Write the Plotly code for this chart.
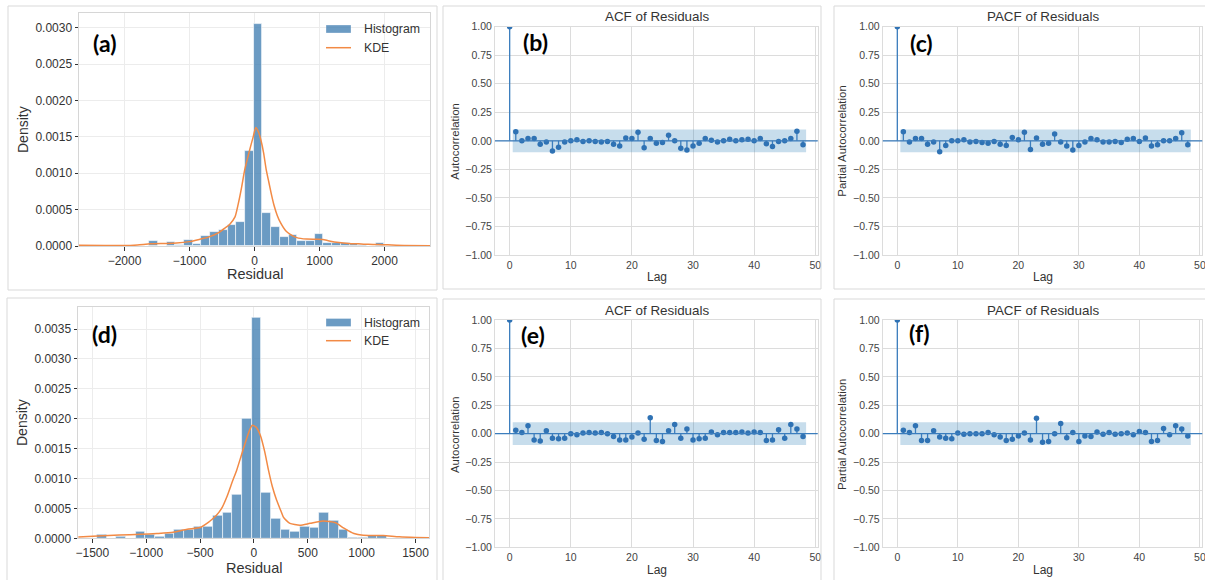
import plotly.graph_objects as go

W, H = 1205, 580

# ---------------- data ----------------
# Panel (a): histogram of residuals (density) + KDE
hist_a_start = -1620.0
hist_a_width = 134.07
hist_a_density = [0.000068, 0.0, 0.00005, 0.00002, 0.000085, 0.00003, 0.00014, 0.00019,
                  0.00022, 0.00029, 0.00033, 0.0013, 0.00305, 0.000455, 0.000255, 0.00012,
                  0.000155, 0.000065, 0.000065, 0.00016, 0.000047, 0.000045, 0.000035,
                  0.000025, 0.000015, 0.000005, 0.000035]
kde_a_x = [-2700, -2300, -2000, -1800, -1600, -1400, -1200, -1000, -850, -700, -550, -450,
           -380, -300, -250, -200, -150, -100, -60, -20, 20, 60, 100, 140, 180, 220, 260,
           300, 350, 400, 480, 550, 650, 800, 950, 1050, 1150, 1300, 1450, 1600, 1750,
           1900, 2050, 2300, 2700]
kde_a_y = [0.00001, 0.000006, 0.000006, 0.000015, 0.00003, 0.000035, 0.00004, 0.00006,
           0.00009, 0.000125, 0.000185, 0.00025, 0.0003, 0.0004, 0.00058, 0.0008, 0.00105,
           0.00123, 0.00137, 0.0015, 0.00163, 0.00157, 0.00145, 0.00128, 0.00105, 0.00088,
           0.00071, 0.00056, 0.00042, 0.00032, 0.00021, 0.00016, 0.000115, 0.000095,
           0.000093, 0.00009, 0.00007, 0.000048, 0.000036, 0.00003, 0.000023, 0.00002,
           0.000016, 0.000008, 0.000002]

# Panel (d): histogram of residuals (density) + KDE
hist_d_start = -1457.0
hist_d_width = 89.7
hist_d_density = [0.000056, 0.0, 0.000022, 0.0, 0.00011, 0.00006, 0.00002, 0.000085,
                  0.00014, 0.00015, 0.000195, 0.000195, 0.00038, 0.00042, 0.00073, 0.0020,
                  0.00369, 0.00076, 0.00032, 0.00014, 0.00011, 0.0002, 0.00017, 0.00043,
                  0.00029, 0.00014, 0.000017, 0.00001, 0.00005, 0.00005, 0.0, 0.0, 0.000015]
kde_d_x = [-1630, -1450, -1250, -1050, -900, -750, -620, -500, -420, -393, -350, -300,
           -250, -200, -160, -120, -80, -40, -15, 20, 60, 100, 135, 170, 210, 250, 272,
           300, 334, 427, 520, 643, 758, 835, 928, 1014, 1100, 1200, 1350, 1500, 1630]
kde_d_y = [0.00002, 0.00004, 0.000055, 0.000067, 0.00008, 0.0001, 0.00015, 0.00018,
           0.00027, 0.00031, 0.00038, 0.0005, 0.0007, 0.00095, 0.00114, 0.00137, 0.0016,
           0.00181, 0.00189, 0.00186, 0.00172, 0.00145, 0.00114, 0.00087, 0.00064,
           0.00046, 0.00036, 0.0003, 0.00025, 0.00022, 0.00025, 0.00029, 0.00026, 0.00017,
           0.00008, 0.00005, 0.000048, 0.000045, 0.000025, 0.000015, 0.00001]

# ACF / PACF panels
lags = list(range(49))
acf_b = [1.0, 0.08, 0.0, 0.02, 0.02, -0.03, -0.01, -0.09, -0.055, -0.01, 0.0, 0.01,
         -0.005, 0.0, -0.005, -0.01, -0.005, -0.03, -0.045, 0.025, 0.02, 0.075, -0.06,
         0.02, -0.02, -0.015, 0.05, 0.0, -0.065, -0.08, -0.045, -0.02, 0.02, 0.005,
         -0.01, 0.0, 0.015, 0.0, 0.01, 0.015, 0.0, 0.02, -0.025, -0.05, -0.005, 0.0,
         0.02, 0.085, -0.035]
pacf_c = [1.0, 0.08, -0.01, 0.02, 0.02, -0.03, -0.01, -0.095, -0.04, 0.0, 0.0, 0.01,
          -0.01, -0.005, -0.015, -0.02, -0.005, -0.03, -0.04, 0.03, 0.01, 0.075, -0.075,
          0.025, -0.03, -0.02, 0.06, -0.01, -0.045, -0.08, -0.04, -0.01, 0.02, 0.01,
          -0.01, -0.01, -0.005, -0.015, 0.015, 0.02, -0.005, 0.025, -0.045, -0.035, 0.0,
          0.0, 0.02, 0.07, -0.035]
acf_e = [1.0, 0.03, 0.01, 0.07, -0.055, -0.065, 0.025, -0.04, -0.045, -0.04, 0.0, -0.01,
         0.005, 0.01, 0.005, 0.01, 0.0, -0.025, -0.055, -0.055, -0.03, 0.005, -0.05, 0.14,
         -0.06, -0.07, 0.025, 0.08, -0.04, 0.04, -0.055, -0.045, -0.04, 0.015, -0.01,
         0.01, 0.01, 0.01, 0.015, 0.005, 0.015, 0.01, -0.06, -0.055, 0.035, -0.04, 0.08,
         0.04, -0.025]
pacf_f = [1.0, 0.03, 0.01, 0.07, -0.06, -0.06, 0.025, -0.03, -0.04, -0.045, 0.005,
          -0.005, 0.0, 0.0, 0.0, 0.01, -0.01, -0.03, -0.06, -0.05, -0.02, 0.005, -0.055,
          0.135, -0.075, -0.07, 0.0, 0.09, -0.035, 0.01, -0.07, -0.02, -0.025, 0.015,
          -0.005, 0.01, -0.005, 0.0, 0.005, -0.01, 0.02, 0.01, -0.07, -0.06, 0.045, -0.01,
          0.07, 0.04, -0.02]
conf_level = 0.1
band_x = [0.5, 48.5]

# ---------------- styling helpers ----------------
FONT = "Liberation Sans, Arial, sans-serif"
BAR_COLOR = "rgba(70,130,180,0.8)"
KDE_COLOR = "#f28a45"
STEM_COLOR = "#3b7dbd"
MARK_COLOR = "#2f72b4"
BAND_COLOR = "rgba(31,119,180,0.25)"


def px_x(l, r):
    return [l / W, r / W]


def px_y(t, b):
    return [1 - b / H, 1 - t / H]


fig = go.Figure()

# ---------------- histograms ----------------
def add_hist(axn, start, width, dens, kx, ky):
    xa = "x" if axn == 1 else f"x{axn}"
    ya = "y" if axn == 1 else f"y{axn}"
    centers = [start + width * (i + 0.5) for i in range(len(dens))]
    fig.add_trace(go.Bar(x=centers, y=dens, width=width, marker=dict(
        color=BAR_COLOR, line=dict(color="rgba(255,255,255,0.75)", width=0.8)),
        xaxis=xa, yaxis=ya, showlegend=False))
    fig.add_trace(go.Scatter(x=kx, y=ky, mode="lines",
                             line=dict(color=KDE_COLOR, width=1.5, shape="spline", smoothing=0.6),
                             xaxis=xa, yaxis=ya, showlegend=False))


add_hist(1, hist_a_start, hist_a_width, hist_a_density, kde_a_x, kde_a_y)
add_hist(4, hist_d_start, hist_d_width, hist_d_density, kde_d_x, kde_d_y)

# ---------------- ACF / PACF ----------------
def add_acf(axn, vals):
    xa = f"x{axn}"
    ya = f"y{axn}"
    fig.add_trace(go.Scatter(x=[band_x[0], band_x[1], band_x[1], band_x[0]],
                             y=[-conf_level, -conf_level, conf_level, conf_level],
                             fill="toself", fillcolor=BAND_COLOR, mode="lines",
                             line=dict(width=0), xaxis=xa, yaxis=ya, showlegend=False,
                             hoverinfo="skip"))
    sx, sy = [], []
    for k, v in zip(lags, vals):
        sx += [k, k, None]
        sy += [0, v, None]
    fig.add_trace(go.Scatter(x=sx, y=sy, mode="lines", line=dict(color=STEM_COLOR, width=1.3),
                             xaxis=xa, yaxis=ya, showlegend=False))
    fig.add_trace(go.Scatter(x=lags, y=vals, mode="markers",
                             marker=dict(color=MARK_COLOR, size=5.5), xaxis=xa, yaxis=ya,
                             showlegend=False))
    fig.add_shape(type="line", xref=f"{xa} domain", yref=ya, x0=0, x1=1, y0=0, y1=0,
                  line=dict(color=STEM_COLOR, width=1.3))


add_acf(2, acf_b)
add_acf(3, pacf_c)
add_acf(5, acf_e)
add_acf(6, pacf_f)

# ---------------- axes ----------------
hist_axis = dict(showgrid=True, gridcolor="#ececec", gridwidth=0.8, zeroline=False,
                 showline=True, linecolor="#d6d6d6", linewidth=1, mirror=True,
                 ticks="outside", ticklen=3.5, tickcolor="#333", tickwidth=1,
                 automargin=False, ticklabeloverflow="allow",
                 tickfont=dict(family=FONT, size=12, color="#333"))
acf_axis = dict(showgrid=True, gridcolor="#dcdcdc", gridwidth=1.2, zeroline=False,
                showline=True, linecolor="#dcdcdc", linewidth=1, mirror=True,
                automargin=False, ticklabeloverflow="allow",
                ticks="", tickfont=dict(family=FONT, size=10.5, color="#444"))

ymax_a = max(hist_a_density) * 1.05
ymax_d = max(hist_d_density) * 1.05

layout = dict(
    width=W, height=H, margin=dict(l=0, r=0, t=0, b=0, autoexpand=False),
    paper_bgcolor="white", plot_bgcolor="white", bargap=0,
    xaxis=dict(hist_axis, domain=px_x(79, 430), range=[-2700, 2700], dtick=1000, anchor="y"),
    yaxis=dict(hist_axis, domain=px_y(13, 246), range=[0, ymax_a], dtick=0.0005,
               tickformat=".4f", anchor="x"),
    xaxis4=dict(hist_axis, domain=px_x(78, 429), range=[-1633, 1625], dtick=500, anchor="y4"),
    yaxis4=dict(hist_axis, domain=px_y(306.7, 538.3), range=[0, ymax_d], dtick=0.0005,
                tickformat=".4f", anchor="x4"),
)
acf_geo = {2: (495, 817.7, 26.7, 255), 3: (882.8, 1202.3, 26.7, 255),
           5: (495, 817.7, 320, 547.3), 6: (882.8, 1202.3, 320, 547.3)}
for n, (l, r, t, b) in acf_geo.items():
    layout[f"xaxis{n}"] = dict(acf_axis, domain=px_x(l, r), range=[-2.4, 50.4], dtick=10,
                               anchor=f"y{n}")
    layout[f"yaxis{n}"] = dict(acf_axis, domain=px_y(t, b), range=[-1.0, 1.0], dtick=0.25,
                               tickformat=".2f", anchor=f"x{n}")
fig.update_layout(**layout)

# ---------------- annotations ----------------
ann = []


def text(x, y, s, size, color="#333", angle=0, xanchor="center", family=FONT):
    ann.append(dict(x=x / W, y=1 - y / H, xref="paper", yref="paper", text=s,
                    showarrow=False, textangle=angle, xanchor=xanchor, yanchor="middle",
                    font=dict(family=family, size=size, color=color)))


# axis titles
text(23, 130, "Density", 14, angle=-90)
text(255, 274, "Residual", 14.5)
text(22, 423, "Density", 14, angle=-90)
text(254, 567.5, "Residual", 14.5)
for (cx, cy, title, ylab, lx) in [(656.7, 16.7, "ACF of Residuals", "Autocorrelation", 455),
                                   (1043, 16.7, "PACF of Residuals", "Partial Autocorrelation", 842),
                                   (656.7, 310, "ACF of Residuals", "Autocorrelation", 455),
                                   (1043, 310, "PACF of Residuals", "Partial Autocorrelation", 842)]:
    text(cx, cy, title, 13.4)
    text(cx, cy + 260, "Lag", 12)
    text(lx, cy + 125, ylab, 11.4, angle=-90)

# panel letters
for (x, y, s) in [(104, 43, "(a)"), (535, 42, "(b)"), (922, 43, "(c)"),
                  (104, 334, "(d)"), (533, 335, "(e)"), (920, 333, "(f)")]:
    text(x, y, "<b>" + s + "</b>", 23, color="#000", family="Lato, Open Sans, sans-serif")

# legends
for (py, ly) in [(29, 47.7), (322.5, 340.7)]:
    text(362, py, "Histogram", 12.3, xanchor="left")
    text(362, ly, "KDE", 12.3, xanchor="left")
fig.update_layout(annotations=ann)

# ---------------- shapes: frames & legend glyphs ----------------
shapes = list(fig.layout.shapes)


def rect_px(x0, y0, x1, y1, line_color=None, fill=None, width=1):
    shapes.append(dict(type="rect", xref="paper", yref="paper", x0=x0 / W, x1=x1 / W,
                       y0=1 - y1 / H, y1=1 - y0 / H,
                       line=dict(color=line_color or "rgba(0,0,0,0)", width=width),
                       fillcolor=fill or "rgba(0,0,0,0)", layer="above"))


for (x0, y0, x1, y1) in [(8, 6, 437, 290), (443, 6, 821, 289), (834, 6, 1210, 289),
                         (7, 298, 437, 590), (443, 299, 821, 590), (834, 299, 1210, 590)]:
    rect_px(x0, y0, x1, y1, line_color="#d9d9d9", width=1)

for (py, ly) in [(29, 47.7), (322.5, 340.7)]:
    rect_px(326, py - 4, 351, py + 4, fill=BAR_COLOR, line_color="rgba(255,255,255,0.6)", width=0.5)
    shapes.append(dict(type="line", xref="paper", yref="paper", x0=326 / W, x1=351 / W,
                       y0=1 - ly / H, y1=1 - ly / H, line=dict(color=KDE_COLOR, width=1.5)))
fig.update_layout(shapes=shapes)

fig.write_html("out.html")
